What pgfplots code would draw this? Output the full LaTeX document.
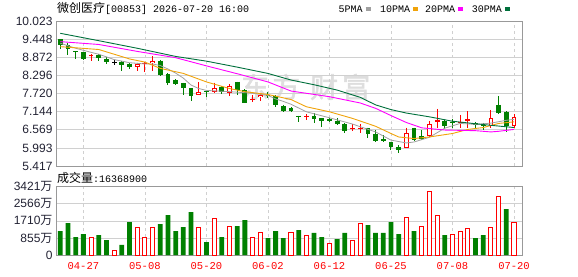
\documentclass[border=0pt]{standalone}
\usepackage{fontspec}
\setmainfont{Liberation Sans}
\newfontfamily\cjk{Noto Sans CJK SC}
\newfontfamily\cjkb[FakeBold=2]{Noto Sans CJK SC}
\newfontfamily\mono{Liberation Mono}
\usepackage{pgfplots}
\usepackage{pgfplotstable}
\pgfplotsset{compat=1.18}

\definecolor{cgreen}{HTML}{008000}
\definecolor{cred}{HTML}{FF0000}
\definecolor{ma5}{HTML}{A0A0A0}
\definecolor{ma10}{HTML}{F0A30A}
\definecolor{ma20}{HTML}{FF00FF}
\definecolor{ma30}{HTML}{00703C}
\definecolor{gridc}{HTML}{D0D0D0}
\definecolor{framec}{HTML}{999999}
\definecolor{labc}{HTML}{222233}
\definecolor{wm}{HTML}{DEDEDE}

% green (falling) candles: x O H L C
\pgfplotstableread{
x O H L C
0 9.44 9.45 9.13 9.26
1 9.26 9.32 8.95 9.13
2 9.07 9.07 8.82 9.04
3 9.03 9.05 8.79 8.82
5 8.94 8.98 8.77 8.84
6 8.82 8.89 8.66 8.72
8 8.73 8.74 8.45 8.63
9 8.66 8.68 8.49 8.55
13 8.77 8.79 8.29 8.31
14 8.34 8.36 7.99 8.07
15 8.15 8.17 7.99 8.02
16 8.04 8.07 7.67 7.89
17 7.89 7.89 7.48 7.64
19 7.81 7.83 7.62 7.76
21 7.94 7.96 7.70 7.78
23 8.10 8.10 7.67 7.83
24 7.83 7.85 7.41 7.43
27 7.67 7.78 7.57 7.64
28 7.64 7.67 7.30 7.36
29 7.32 7.36 7.14 7.15
30 7.27 7.29 7.14 7.16
31 7.02 7.02 6.82 7.00
33 7.01 7.09 6.77 6.91
34 6.93 6.93 6.67 6.84
35 6.91 6.93 6.82 6.85
36 6.85 6.93 6.71 6.74
37 6.75 6.77 6.47 6.53
40 6.61 6.64 6.32 6.43
41 6.43 6.56 6.19 6.21
42 6.26 6.40 6.17 6.20
43 6.17 6.19 5.92 6.03
44 6.03 6.08 5.84 5.94
46 6.61 6.64 6.21 6.24
47 6.37 6.56 6.24 6.28
50 6.86 6.88 6.58 6.69
51 6.82 6.92 6.61 6.79
54 6.77 6.82 6.64 6.71
55 6.72 6.79 6.56 6.69
57 7.36 7.64 7.07 7.11
58 7.12 7.16 6.51 6.69
}\greenc

% red hollow (rising) candles
\pgfplotstableread{
x O H L C
10 8.55 8.70 8.45 8.65
12 8.70 8.91 8.45 8.77
18 7.67 8.08 7.67 7.78
20 7.76 8.07 7.73 7.89
22 7.73 8.02 7.65 7.97
26 7.60 7.75 7.49 7.67
45 5.98 6.64 5.98 6.47
48 6.37 6.85 6.35 6.74
56 6.69 7.20 6.64 6.93
59 6.69 7.07 6.64 6.98
}\redh

% small red candles
\pgfplotstableread{
x O H L C
4 8.90 8.98 8.77 8.93
11 8.67 8.71 8.42 8.70
25 7.53 7.67 7.46 7.56
32 6.99 7.07 6.88 7.02
38 6.58 6.74 6.53 6.61
39 6.61 6.74 6.47 6.64
49 6.83 7.23 6.64 6.87
52 6.80 7.04 6.64 6.83
53 6.86 7.16 6.64 6.90
}\redx

% doji
\pgfplotstableread{
x O H L C
7 8.72 8.79 8.62 8.72
}\dojic

\pgfplotstableread{
x y
0 9.32
2 9.16
4 9.03
5 8.97
7 8.80
9 8.70
11 8.66
12 8.66
13 8.61
14 8.50
15 8.37
16 8.21
17 7.99
18 7.88
19 7.82
22 7.78
25 7.73
27 7.66
28 7.55
29 7.47
30 7.38
32 7.14
35 6.95
38 6.75
41 6.50
43 6.24
45 6.15
46 6.18
48 6.33
50 6.62
52 6.77
54 6.74
56 6.78
58 6.87
59 6.90
}\mafive

\pgfplotstableread{
x y
0 9.21
5 9.12
9 8.82
11 8.72
13 8.52
16 8.36
19 8.09
22 7.88
24 7.78
27 7.69
30 7.53
32 7.30
35 7.14
38 6.93
41 6.68
43 6.45
44 6.34
46 6.29
48 6.34
51 6.45
53 6.58
55 6.64
57 6.77
59 6.82
}\maten

\pgfplotstableread{
x y
0 9.37
5 9.28
10 9.06
15 8.86
19 8.60
23 8.35
27 8.09
30 7.80
35 7.62
39 7.42
41 7.25
43 7.02
45 6.80
47 6.63
50 6.56
54 6.54
56 6.50
57 6.52
59 6.58
}\matwenty

\pgfplotstableread{
x y
0 9.635
5 9.40
10 9.16
15 8.90
19 8.75
23 8.56
27 8.36
30 8.15
33 8.00
36 7.83
39 7.60
41 7.36
43 7.21
45 7.10
48 6.98
51 6.84
54 6.76
56 6.71
59 6.64
}\mathirty

% volume in 10k shares
\pgfplotstableread{
x v
0 1202
1 1602
2 901
3 1051
5 1001
6 751
8 501
9 1652
13 1552
14 2003
15 1202
16 1402
17 2153
19 651
21 901
23 1452
24 1752
27 851
28 1202
29 851
31 1252
33 1102
34 901
36 801
37 1102
40 1502
41 1102
42 1102
43 1652
44 1051
46 1202
50 1001
54 851
55 1001
58 2303
}\volg

\pgfplotstableread{
x v
4 901
7 234
10 1402
11 901
12 1402
18 1402
20 1836
22 1435
25 901
26 1152
30 1102
32 1001
35 601
38 751
39 1586
45 1886
47 1435
48 3188
49 1986
51 1035
52 1185
53 1335
56 1385
57 2937
59 1637
}\volr

\pgfplotsset{
  panel/.style={
    scale only axis, anchor=south west,
    xmin=-0.56, xmax=60.04,
    axis line style={framec, line width=0.8pt},
    major tick length=0pt,
    xtick={3,11,19,27,35,43,51,59},
    xmajorgrids, ymajorgrids,
    x grid style={gridc, line width=0.7pt, dash pattern=on 3pt off 3pt},
    y grid style={gridc, line width=0.7pt},
    tick label style={text=labc},
    yticklabel style={font=\fontsize{12}{12}\selectfont},
  },
  seg/.style 2 args={draw=none, no markers, forget plot,
    error bars/.cd, y dir=minus, y explicit, error mark=none,
    error bar style={draw=#2, line width=#1}},
}

\begin{document}
\begin{tikzpicture}
\path[use as bounding box] (0,0) rectangle (578pt,276pt);

% watermark
\node[anchor=west, inner sep=0pt, text=wm, font=\cjkb\fontsize{28}{28}\selectfont] at (241pt,189pt) {东\hspace{3pt}方\hspace{10pt}财\hspace{4pt}富};

% price panel
\begin{axis}[panel,
  at={(56pt,110pt)}, width=466pt, height=144.9pt,
  ymin=5.417, ymax=10.023,
  xticklabels={},
  ytick={5.417,5.993,6.569,7.144,7.720,8.296,8.872,9.448,10.023},
  yticklabels={5.417,5.993,6.569,7.144,7.720,8.296,8.872,9.448,10.023},
]
\addplot[seg={1pt}{cgreen}] table[x=x, y=H, y error expr=\thisrow{H}-\thisrow{L}] {\greenc};
\addplot[seg={4.8pt}{cgreen}] table[x=x, y=O, y error expr=\thisrow{O}-\thisrow{C}] {\greenc};
\addplot[seg={1pt}{cred}] table[x=x, y=H, y error expr=\thisrow{H}-\thisrow{L}] {\redx};
\addplot[seg={4.8pt}{cred}] table[x=x, y=C, y error expr=\thisrow{C}-\thisrow{O}] {\redx};
\addplot[seg={1pt}{cred}] table[x=x, y=H, y error expr=\thisrow{H}-\thisrow{L}] {\redh};
\addplot[seg={4.8pt}{cred}] table[x=x, y=C, y error expr=\thisrow{C}-\thisrow{O}] {\redh};
\addplot[draw=none, no markers, forget plot,
    error bars/.cd, y dir=minus, y explicit, error mark=none,
    error bar style={draw=white, line width=2.8pt, shorten <=1pt, shorten >=1pt}]
    table[x=x, y=C, y error expr=\thisrow{C}-\thisrow{O}] {\redh};
\addplot[seg={1pt}{black}] table[x=x, y=H, y error expr=\thisrow{H}-\thisrow{L}] {\dojic};
\addplot[seg={4.8pt}{black}] table[x=x, y=C, y error expr=0.03] {\dojic};

\addplot[ma5, line width=0.8pt, no marks] table[x=x, y=y] {\mafive};
\addplot[ma10, line width=0.9pt, no marks] table[x=x, y=y] {\maten};
\addplot[ma20, line width=0.9pt, no marks] table[x=x, y=y] {\matwenty};
\addplot[ma30, line width=0.9pt, no marks] table[x=x, y=y] {\mathirty};
\end{axis}

% volume panel
\begin{axis}[panel,
  at={(56pt,21pt)}, width=466pt, height=68.3pt,
  ymin=0, ymax=3421,
  xticklabels={04-27,05-08,05-20,06-02,06-12,06-25,07-08,07-20},
  xticklabel style={text=cred, font=\mono\fontsize{10.5}{10.5}\selectfont, yshift=-3.8pt},
  ytick={0,855.25,1710.5,2565.75,3421},
  yticklabels={0,855{\cjk 万},1710{\cjk 万},2566{\cjk 万},3421{\cjk 万}},
]
\addplot[ybar, bar width=4.8pt, bar shift=0pt, fill=cgreen, draw=none] table[x=x, y=v] {\volg};
\addplot[ybar, bar width=4.1pt, bar shift=0pt, fill=white, draw=cred, line width=1pt] table[x=x, y=v] {\volr};
\end{axis}

% titles
\node[anchor=west, inner sep=0pt, text=black] at (57pt,268pt)
  {{\cjk\fontsize{12}{12}\selectfont 微创医疗}{\mono\fontsize{10}{10}\selectfont[00853] 2026-07-20 16:00}};
\node[anchor=west, inner sep=0pt, text=black] at (57pt,98.5pt)
  {{\cjk\fontsize{12}{12}\selectfont 成交量}{\mono\fontsize{10}{10}\selectfont:16368900}};

% legend
\node[anchor=west, inner sep=0pt, font=\mono\fontsize{10}{10}\selectfont] at (338.3pt,267pt)
  {5PMA\hspace{3pt}\textcolor{ma5}{\rule[1.6pt]{5pt}{3.4pt}}};
\node[anchor=west, inner sep=0pt, font=\mono\fontsize{10}{10}\selectfont] at (380pt,267pt)
  {10PMA\hspace{3pt}\textcolor{ma10}{\rule[1.6pt]{5pt}{3.4pt}}};
\node[anchor=west, inner sep=0pt, font=\mono\fontsize{10}{10}\selectfont] at (425pt,267pt)
  {20PMA\hspace{3pt}\textcolor{ma20}{\rule[1.6pt]{5pt}{3.4pt}}};
\node[anchor=west, inner sep=0pt, font=\mono\fontsize{10}{10}\selectfont] at (471.7pt,267pt)
  {30PMA\hspace{3pt}\textcolor{ma30}{\rule[1.6pt]{5pt}{3.4pt}}};
\end{tikzpicture}
\end{document}
